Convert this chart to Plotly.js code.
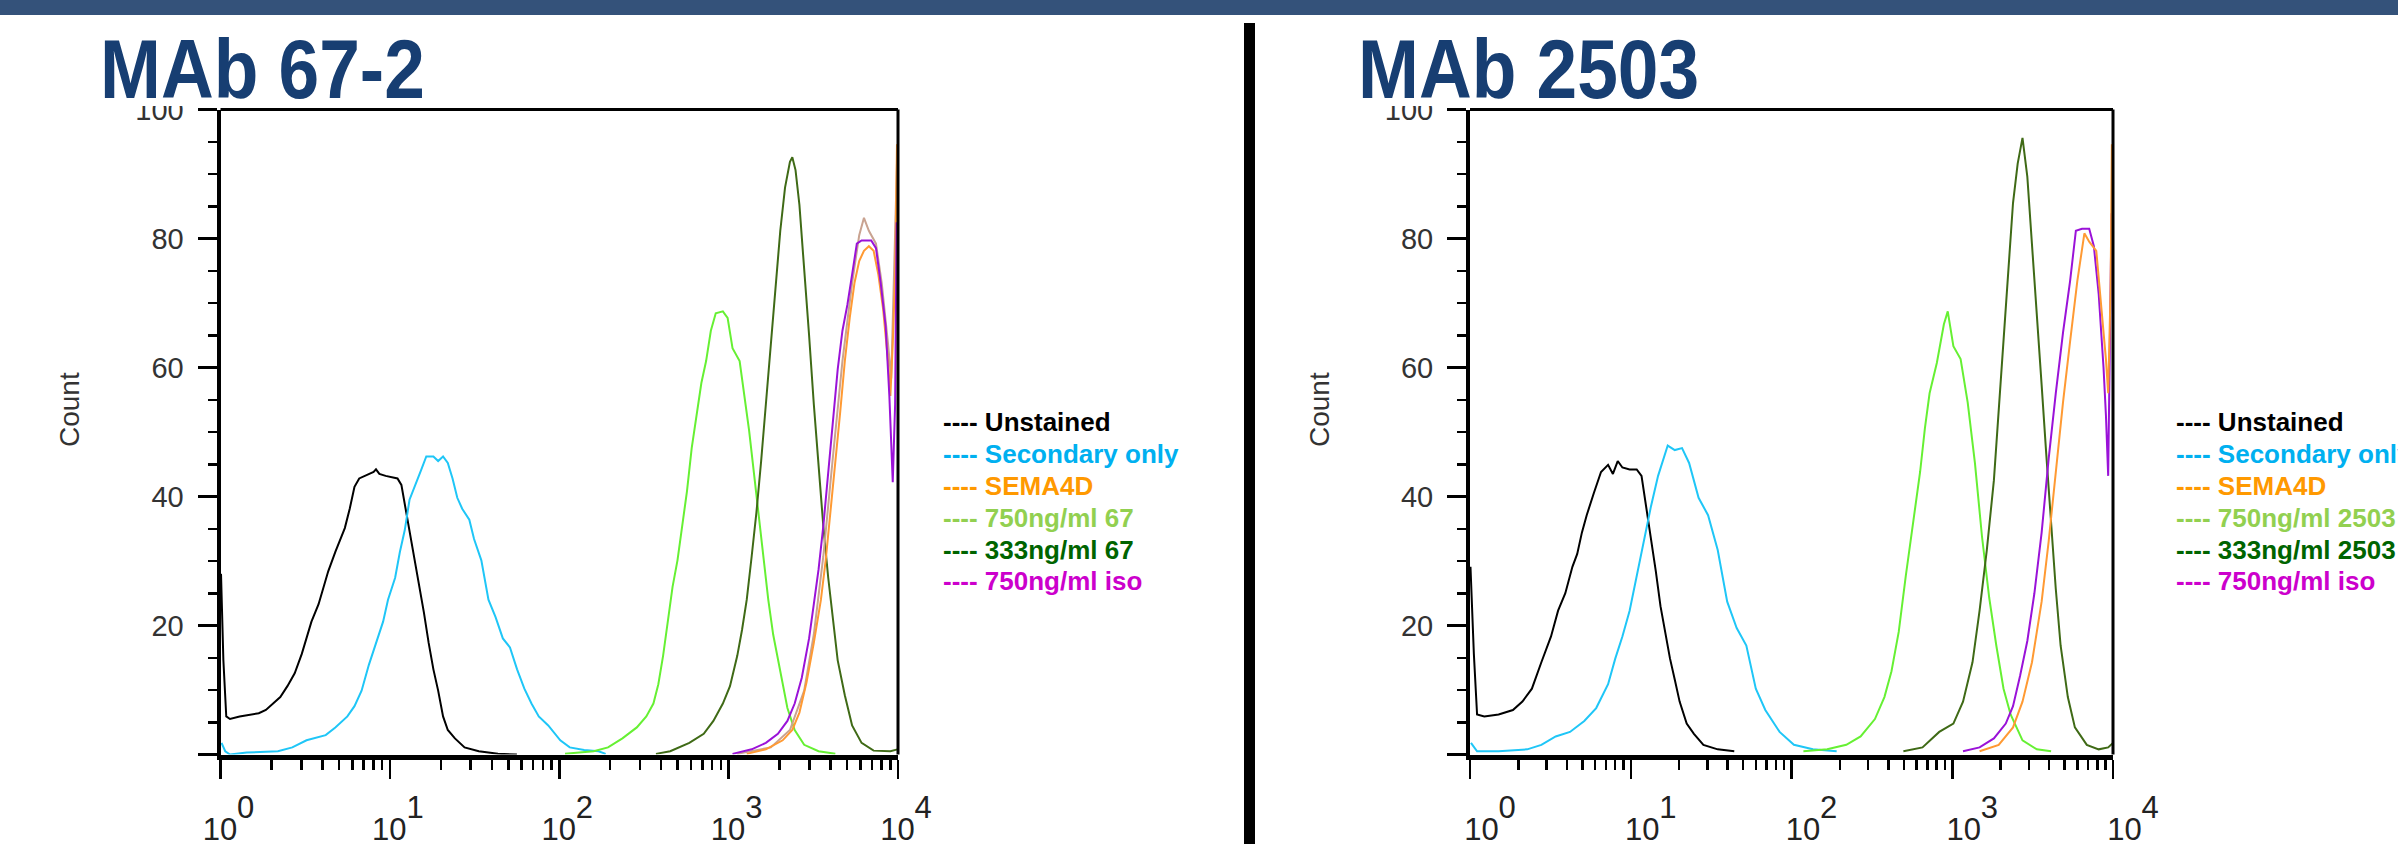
<!DOCTYPE html>
<html>
<head>
<meta charset="utf-8">
<script src="https://cdn.plot.ly/plotly-3.0.1.min.js"></script>
<style>
  html, body { margin: 0; padding: 0; background: #ffffff; }
  #chart { width: 2398px; height: 844px; }
</style>
</head>
<body>
<div id="chart"></div>
<script>
// ---------------- DATA ----------------
// x positions are given as log10(fluorescence intensity); y = Count
const panelTitles = ['MAb 67-2', 'MAb 2503'];

const seriesNames67   = ['Unstained', 'Secondary only', 'SEMA4D', '750ng/ml 67', '333ng/ml 67', '750ng/ml iso'];
const seriesNames2503 = ['Unstained', 'Secondary only', 'SEMA4D', '750ng/ml 2503', '333ng/ml 2503', '750ng/ml iso'];
const legendColors = ['#000000', '#00b0f0', '#ff9900', '#92d050', '#006400', '#cc00cc'];

// --- MAb 67-2 panel ---
const unstained67_logx = [0.003,0.017,0.034,0.056,0.113,0.226,0.268,0.311,0.353,0.395,0.438,0.480,0.514,0.537,0.579,0.607,0.636,0.678,0.706,0.734,0.763,0.791,0.819,0.876,0.904,0.918,0.938,0.975,1.045,1.068,1.088,1.116,1.144,1.172,1.201,1.229,1.257,1.285,1.314,1.342,1.384,1.441,1.525,1.638,1.75];
const unstained67_y    = [28.0,14.6,5.9,5.5,5.9,6.4,6.9,7.9,8.9,10.6,12.6,15.6,18.6,20.6,23.3,26.0,28.4,31.4,33.4,35.1,38.1,41.5,42.8,43.4,43.8,44.2,43.5,43.2,42.8,41.8,38.8,34.8,30.7,26.7,22.0,17.3,13.2,9.9,5.9,3.8,2.5,1.1,0.5,0.1,0];

const secondary67_logx = [0.006,0.028,0.056,0.155,0.339,0.424,0.508,0.593,0.621,0.678,0.749,0.791,0.833,0.876,0.918,0.960,0.989,1.031,1.059,1.088,1.116,1.158,1.186,1.215,1.257,1.285,1.314,1.342,1.370,1.398,1.427,1.469,1.497,1.540,1.582,1.624,1.667,1.709,1.751,1.794,1.836,1.879,1.935,2.006,2.062,2.147,2.232,2.274];
const secondary67_y    = [1.8,0.5,0,0.3,0.5,1.1,2.2,2.8,3.0,4.2,5.9,7.5,9.9,13.9,17.3,20.6,24.0,27.4,31.4,34.8,39.5,42.2,44.2,46.2,46.2,45.5,46.2,45.2,42.8,39.8,38.1,36.4,33.4,30.1,24.0,21.3,18.0,16.6,13.2,10.2,7.9,5.9,4.5,2.2,1.1,0.7,0.5,0.1];

const sema4d67_logx = [3.107,3.220,3.319,3.376,3.418,3.460,3.503,3.545,3.573,3.602,3.630,3.658,3.686,3.715,3.743,3.771,3.799,3.828,3.856,3.884,3.912,3.941,3.955,3.969,3.983,3.994];
const sema4d67_y    = [0.1,0.8,2.2,3.8,6.5,11.2,17.3,24.0,30.1,37.5,45.5,52.9,61.0,67.7,73.1,76.5,78.1,78.8,78.1,74.4,69.1,61.0,55.6,63.7,74.4,94.6];

const sema4dOverlay67_logx = [3.051,3.249,3.362,3.446,3.503,3.559,3.616,3.672,3.729,3.771,3.799,3.828,3.870,3.904,3.941,3.960,3.975,3.997];
const sema4dOverlay67_y    = [0.1,1.1,3.8,9.9,18.6,30.7,46.2,61.0,73.1,80.5,83.2,81.2,79.2,73.1,63.7,58.3,73.1,94.6];

const high67_logx = [2.034,2.203,2.288,2.373,2.458,2.514,2.556,2.585,2.613,2.641,2.669,2.698,2.726,2.754,2.782,2.811,2.839,2.867,2.895,2.924,2.966,2.994,3.023,3.065,3.093,3.121,3.150,3.178,3.206,3.234,3.263,3.305,3.347,3.390,3.446,3.531,3.630];
const high67_y    = [0.1,0.5,1.1,2.5,4.2,5.9,7.9,10.9,15.3,20.6,26.0,30.1,35.4,40.8,47.5,52.3,57.6,61.0,65.7,68.4,68.7,67.7,63.0,61.0,55.6,50.2,43.5,36.8,30.1,24.0,18.6,12.6,7.2,3.8,1.5,0.5,0.1];

const low67_logx = [2.571,2.655,2.768,2.853,2.910,2.966,3.008,3.051,3.079,3.107,3.136,3.164,3.192,3.220,3.249,3.277,3.305,3.333,3.362,3.376,3.395,3.418,3.446,3.475,3.503,3.531,3.559,3.588,3.616,3.644,3.686,3.729,3.785,3.856,3.955,3.997];
const low67_y    = [0.1,0.5,1.8,3.2,5.2,7.9,10.6,15.3,19.3,24.0,30.7,37.5,45.5,54.3,63.7,72.4,81.2,87.9,91.9,92.6,90.6,85.2,75.8,65.0,54.3,44.2,35.4,27.4,20.6,14.6,9.2,4.5,1.8,0.6,0.5,0.8];

const iso67_logx = [3.023,3.136,3.220,3.291,3.347,3.390,3.432,3.475,3.503,3.531,3.559,3.588,3.616,3.644,3.672,3.701,3.729,3.757,3.785,3.842,3.870,3.898,3.927,3.949,3.969,3.983,3.992];
const iso67_y    = [0.1,0.8,1.8,3.2,5.2,7.9,11.9,18.0,23.3,28.7,35.4,43.5,51.6,59.7,65.7,69.7,74.4,79.2,79.7,79.7,78.5,73.1,66.4,55.6,42.2,54.3,82.5];

// --- MAb 2503 panel ---
const unstained2503_logx = [0.003,0.024,0.044,0.089,0.178,0.267,0.326,0.385,0.444,0.504,0.548,0.593,0.637,0.667,0.696,0.726,0.770,0.815,0.859,0.889,0.919,0.948,0.993,1.037,1.067,1.096,1.126,1.156,1.185,1.215,1.244,1.274,1.304,1.348,1.393,1.452,1.541,1.644];
const unstained2503_y    = [29.1,15.6,6.2,5.9,6.2,6.9,8.2,10.2,14.3,18.3,22.3,25.0,29.1,31.1,34.4,37.1,40.5,43.8,44.9,43.5,45.5,44.5,44.2,44.2,43.2,38.5,33.8,28.4,23.0,19.0,14.9,11.6,8.2,4.8,3.2,1.5,0.8,0.5];

const secondary2503_logx = [0.006,0.044,0.178,0.356,0.444,0.533,0.622,0.711,0.785,0.859,0.904,0.948,0.993,1.037,1.081,1.126,1.170,1.230,1.274,1.319,1.363,1.422,1.481,1.541,1.600,1.659,1.719,1.778,1.837,1.926,2.015,2.133,2.281];
const secondary2503_y    = [1.8,0.5,0.5,0.8,1.5,2.8,3.5,5.2,7.2,10.9,14.9,18.3,22.3,27.7,33.1,38.5,43.2,47.9,47.2,47.5,45.2,39.8,37.1,31.7,23.7,19.6,16.9,10.2,6.9,3.5,1.5,0.8,0.5];

const sema4d2503_logx = [3.170,3.289,3.378,3.437,3.496,3.556,3.600,3.644,3.689,3.733,3.778,3.822,3.852,3.896,3.926,3.956,3.970,3.985,3.993];
const sema4d2503_y    = [0.5,1.5,4.2,8.2,14.3,23.7,33.1,43.8,54.6,64.0,73.4,80.8,79.5,78.1,70.1,61.3,56.0,72.1,94.6];

const high2503_logx = [2.074,2.222,2.341,2.430,2.519,2.578,2.622,2.667,2.711,2.756,2.800,2.830,2.859,2.904,2.948,2.972,3.007,3.052,3.096,3.141,3.185,3.230,3.274,3.319,3.363,3.437,3.526,3.615];
const high2503_y    = [0.5,0.8,1.5,2.8,5.5,8.9,12.9,19.0,27.7,35.8,43.8,50.6,56.0,60.7,66.7,68.7,63.3,61.3,54.6,45.2,33.8,24.3,16.9,10.2,6.2,2.2,0.8,0.5];

const low2503_logx = [2.696,2.815,2.919,3.007,3.067,3.126,3.170,3.215,3.259,3.289,3.319,3.348,3.378,3.407,3.437,3.467,3.496,3.526,3.556,3.585,3.615,3.644,3.674,3.719,3.763,3.837,3.911,3.970,4.0];
const low2503_y    = [0.5,1.1,3.5,4.8,8.2,14.3,22.3,31.7,42.5,53.3,64.0,74.8,85.5,91.6,95.6,89.6,79.5,68.1,57.3,46.5,35.8,25.7,16.9,8.9,4.2,1.5,0.8,1.1,1.8];

const iso2503_logx = [3.067,3.170,3.259,3.333,3.378,3.422,3.467,3.511,3.556,3.600,3.644,3.689,3.733,3.769,3.807,3.852,3.881,3.911,3.941,3.956,3.970,3.982,3.991];
const iso2503_y    = [0.5,1.1,2.5,4.8,7.5,12.2,17.6,25.0,34.4,45.9,56.0,65.4,73.4,81.2,81.5,81.5,78.8,71.4,60.0,52.6,43.2,68.1,83.9];

// tick labels
const xDecades = [0, 1, 2, 3, 4];
const yTickVals = [0, 20, 40, 60, 80, 100];
const yTickText = ['', '20', '40', '60', '80', '100'];

// ---------------- STYLE / BUILD ----------------
const W = 2398, H = 844;
const px = x => x / W;
const py = y => 1 - y / H;

const curveColors = {
  unstained: '#000000', secondary: '#1fc6f7', sema: '#ff9a33', overlay: '#c9a391',
  high: '#66f033', low: '#3f6a16', iso: '#9a12d8'
};
const toX = arr => arr.map(v => Math.pow(10, v));

function tr(logx, y, color, name, xa, ya, w) {
  return { type: 'scatter', mode: 'lines', x: toX(logx), y: y, name: name,
           xaxis: xa, yaxis: ya, line: { color: color, width: w || 2 }, hoverinfo: 'skip' };
}

const traces = [
  tr(unstained67_logx, unstained67_y, curveColors.unstained, seriesNames67[0], 'x', 'y'),
  tr(secondary67_logx, secondary67_y, curveColors.secondary, seriesNames67[1], 'x', 'y'),
  tr(high67_logx, high67_y, curveColors.high, seriesNames67[3], 'x', 'y'),
  tr(low67_logx, low67_y, curveColors.low, seriesNames67[4], 'x', 'y'),
  tr(sema4dOverlay67_logx, sema4dOverlay67_y, curveColors.overlay, seriesNames67[2] + ' (overlay)', 'x', 'y'),
  tr(sema4d67_logx, sema4d67_y, curveColors.sema, seriesNames67[2], 'x', 'y'),
  tr(iso67_logx, iso67_y, curveColors.iso, seriesNames67[5], 'x', 'y'),

  tr(unstained2503_logx, unstained2503_y, curveColors.unstained, seriesNames2503[0], 'x2', 'y2'),
  tr(secondary2503_logx, secondary2503_y, curveColors.secondary, seriesNames2503[1], 'x2', 'y2'),
  tr(high2503_logx, high2503_y, curveColors.high, seriesNames2503[3], 'x2', 'y2'),
  tr(low2503_logx, low2503_y, curveColors.low, seriesNames2503[4], 'x2', 'y2'),
  tr(iso2503_logx, iso2503_y, curveColors.iso, seriesNames2503[5], 'x2', 'y2'),
  tr(sema4d2503_logx, sema4d2503_y, curveColors.sema, seriesNames2503[2], 'x2', 'y2')
];

const xTickVals = xDecades.map(d => Math.pow(10, d));
const xTickText = xDecades.map(d => '<span style="font-size:31px">10</span><sup><span style="font-size:31px">' + d + '</span></sup>');
const xMinorVals = [];
xDecades.slice(0, 4).forEach(d => { for (let k = 2; k <= 9; k++) xMinorVals.push(k * Math.pow(10, d)); });

const yDomain = [py(754.5), py(109.5)];

function xAxis(domain, anchor, shift) {
  return {
    type: 'log', domain: domain, range: [0, 4], anchor: anchor,
    tickmode: 'array', tickvals: xTickVals, ticktext: xTickText,
    ticks: 'outside', ticklen: 19, tickwidth: 2.5, tickcolor: '#000',
    showline: true, linewidth: 5, linecolor: '#000',
    showgrid: false, zeroline: false, fixedrange: true,
    tickfont: { family: 'Liberation Sans, Arial, sans-serif', size: 54, color: '#222' },
    ticklabelstandoff: -3, ticklabelshift: shift,
    minor: { tickmode: 'array', tickvals: xMinorVals, ticks: 'outside', ticklen: 10, tickwidth: 2.5, tickcolor: '#000', showgrid: false }
  };
}
function yAxis(anchor) {
  return {
    domain: yDomain, range: [0, 100], anchor: anchor,
    tickmode: 'array', tickvals: yTickVals, ticktext: yTickText,
    ticks: 'outside', ticklen: 19, tickwidth: 2.5, tickcolor: '#000',
    showline: true, linewidth: 4, linecolor: '#000',
    showgrid: false, zeroline: false, fixedrange: true,
    tickfont: { family: 'Liberation Sans, Arial, sans-serif', size: 29, color: '#333' },
    ticklabelstandoff: 8,
    minor: { dtick: 5, tick0: 0, ticks: 'outside', ticklen: 9, tickwidth: 2.5, tickcolor: '#000', showgrid: false }
  };
}

const annotations = [];
// panel titles
const titleX = [99, 1357];
panelTitles.forEach((t, i) => annotations.push({
  xref: 'paper', yref: 'paper', x: px(titleX[i]), y: py(21), xanchor: 'left', yanchor: 'top',
  text: '<b>' + t + '</b>', showarrow: false, borderpad: 0,
  font: { family: 'Liberation Sans, Arial', size: 84, color: '#173e72' }
}));
// y axis titles
[70, 1320].forEach(x => annotations.push({
  xref: 'paper', yref: 'paper', x: px(x), y: py(410), xanchor: 'center', yanchor: 'middle',
  text: 'Count', textangle: -90, showarrow: false,
  font: { family: 'Liberation Sans, Arial', size: 28, color: '#333' }
}));
// legend texts
const legendX = [942, 2175];
[seriesNames67, seriesNames2503].forEach((names, p) => names.forEach((n, i) => annotations.push({
  xref: 'paper', yref: 'paper', x: px(legendX[p]), y: py(422.3 + i * 31.8), xanchor: 'left', yanchor: 'middle',
  text: '<b>---- ' + n + '</b>', showarrow: false, borderpad: 0,
  font: { family: 'Liberation Sans, Arial', size: 26, color: legendColors[i] }
})));

const shapes = [
  // header band
  { type: 'rect', xref: 'paper', yref: 'paper', x0: 0, x1: 1, y0: py(15), y1: 1, fillcolor: '#34527a', line: { width: 0 } },
  // vertical divider
  { type: 'rect', xref: 'paper', yref: 'paper', x0: px(1244), x1: px(1255), y0: 0, y1: py(23), fillcolor: '#000', line: { width: 0 } },
  // frame top / right
  { type: 'line', xref: 'x domain', yref: 'y domain', x0: 0, x1: 1, y0: 1, y1: 1, line: { color: '#000', width: 3 } },
  { type: 'line', xref: 'x domain', yref: 'y domain', x0: 1, x1: 1, y0: 0, y1: 1, line: { color: '#000', width: 3 } },
  { type: 'line', xref: 'x2 domain', yref: 'y2 domain', x0: 0, x1: 1, y0: 1, y1: 1, line: { color: '#000', width: 3 } },
  { type: 'line', xref: 'x2 domain', yref: 'y2 domain', x0: 1, x1: 1, y0: 0, y1: 1, line: { color: '#000', width: 3 } },
  // title box hides the top of the "100" labels
  { type: 'rect', xref: 'paper', yref: 'paper', x0: px(120), x1: px(199), y0: py(106), y1: py(85), fillcolor: '#fff', line: { width: 0 }, layer: 'above' },
  { type: 'rect', xref: 'paper', yref: 'paper', x0: px(1370), x1: px(1449), y0: py(106), y1: py(85), fillcolor: '#fff', line: { width: 0 }, layer: 'above' }
];

const layout = {
  width: W, height: H,
  margin: { l: 0, r: 0, t: 0, b: 0 },
  paper_bgcolor: '#ffffff', plot_bgcolor: '#ffffff',
  showlegend: false,
  xaxis: xAxis([px(220.5), px(898)], 'y', 8),
  yaxis: yAxis('x'),
  xaxis2: xAxis([px(1470), px(2113)], 'y2', 20),
  yaxis2: yAxis('x2'),
  annotations: annotations,
  shapes: shapes
};

Plotly.newPlot('chart', traces, layout, { staticPlot: true, displayModeBar: false }).then(gd => {
  // the panel titles are set in a condensed bold face: narrow the glyphs horizontally
  const titleScale = 0.87;
  gd.querySelectorAll('text.annotation-text').forEach(el => {
    if (panelTitles.indexOf(el.textContent) >= 0) {
      const bb = el.getBBox();
      const x0 = bb.x;
      const prev = el.getAttribute('transform') || '';
      el.setAttribute('transform', 'translate(' + x0 + ',0) scale(' + titleScale + ',1) translate(' + (-x0) + ',0) ' + prev);
    }
  });
});
</script>
</body>
</html>
